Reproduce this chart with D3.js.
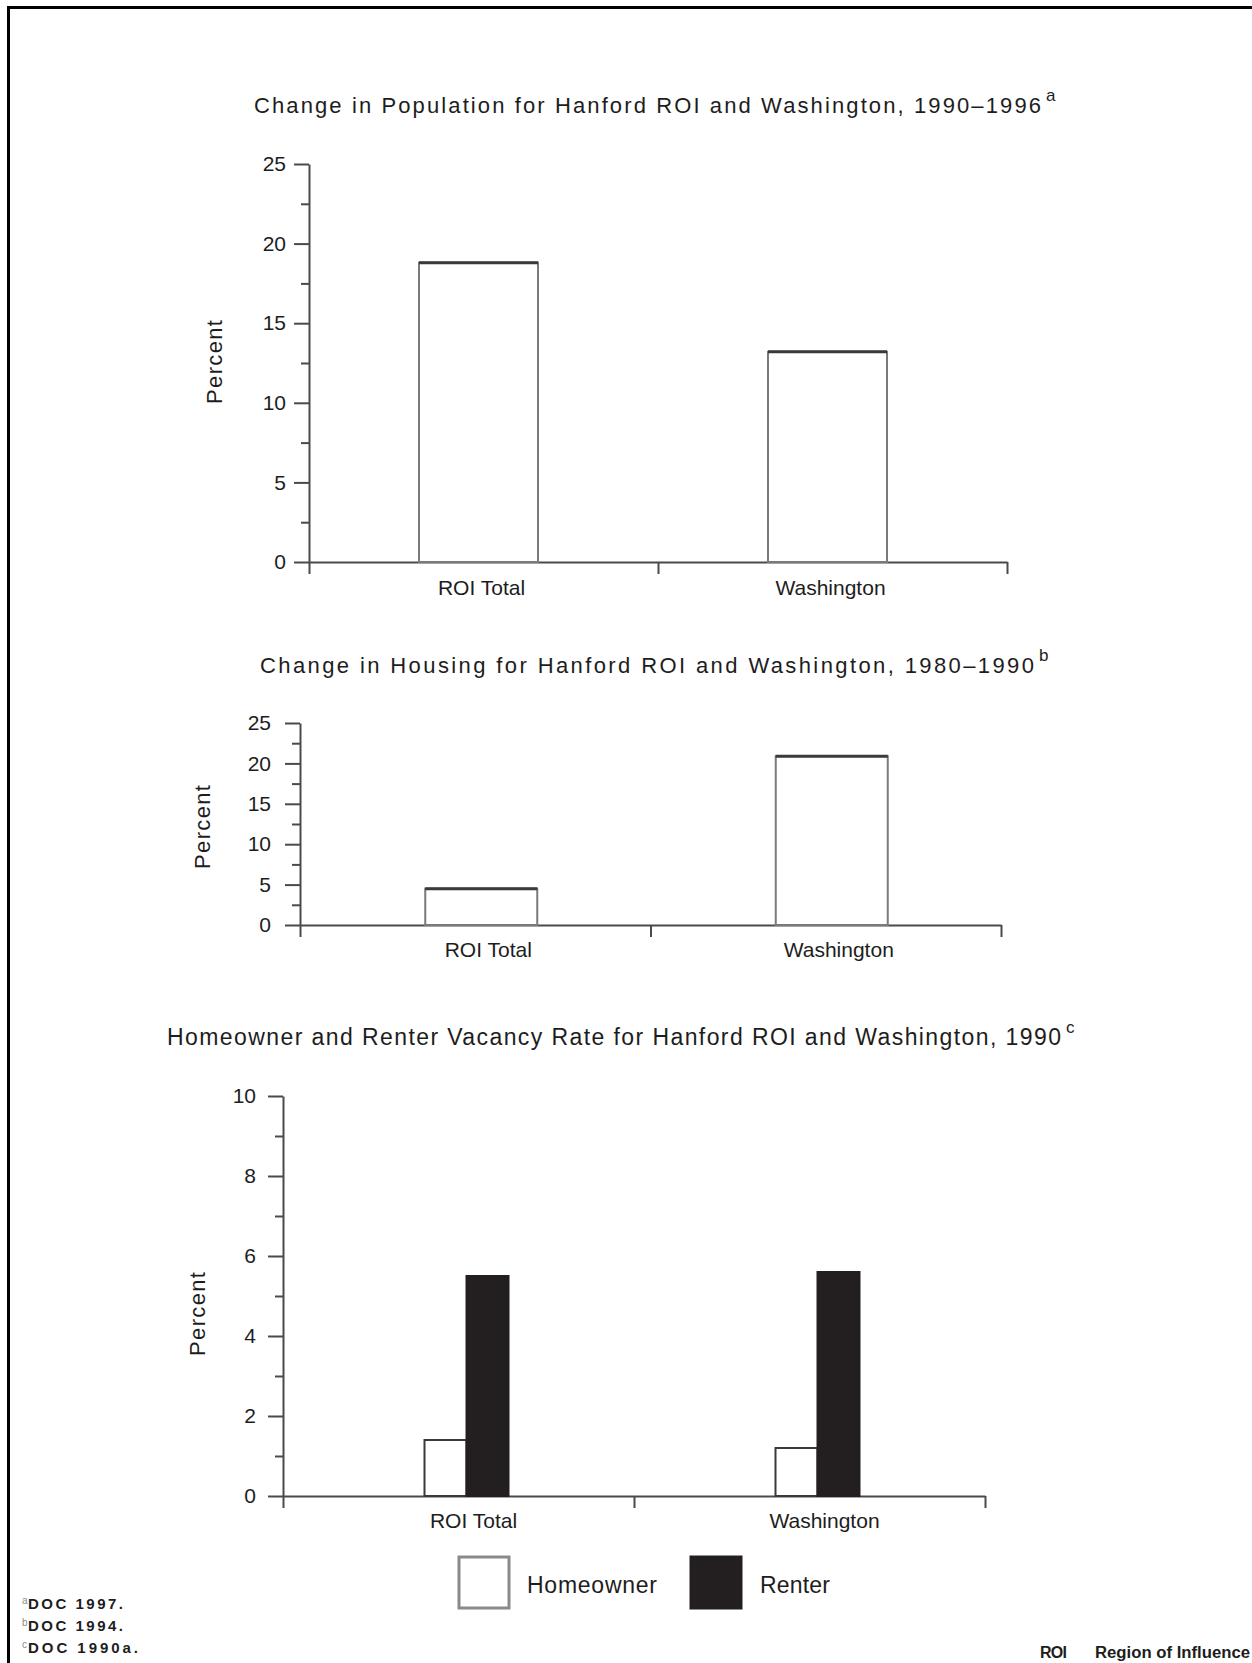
<!DOCTYPE html>
<html>
<head>
<meta charset="utf-8">
<script src="https://cdn.jsdelivr.net/npm/d3@7"></script>
<style>
  html, body { margin: 0; padding: 0; background: #fff; }
  svg { display: block; }
  text { font-family: "Liberation Sans", Arial, sans-serif; fill: #1d1d1d; }
</style>
</head>
<body>
<svg id="chart" width="1252" height="1663"></svg>
<script>
// ---------- data ----------
const categories = ["ROI Total", "Washington"];
const populationChange = [18.8, 13.2];          // % change 1990–1996
const housingChange = [4.5, 20.9];              // % change 1980–1990
const seriesNames = ["Homeowner", "Renter"];
const homeownerVacancy = [1.4, 1.2];            // % 1990
const renterVacancy = [5.5, 5.6];               // % 1990
const percentTicks = [0, 5, 10, 15, 20, 25];
const percentMinorTicks = [2.5, 7.5, 12.5, 17.5, 22.5];
const vacancyTicks = [0, 2, 4, 6, 8, 10];
const vacancyMinorTicks = [1, 3, 5, 7, 9];
const titles = [
  "Change in Population for Hanford ROI and Washington, 1990\u20131996",
  "Change in Housing for Hanford ROI and Washington, 1980\u20131990",
  "Homeowner and Renter Vacancy Rate for Hanford ROI and Washington, 1990"
];
const titleMarks = ["a", "b", "c"];
const footnoteMarks = ["a", "b", "c"];
const footnotes = ["DOC 1997.", "DOC 1994.", "DOC 1990a."];
const yLabel = "Percent";
const abbrev = ["ROI", "Region of Influence"];

// ---------- page ----------
const svg = d3.select("#chart");
svg.append("rect").attr("width", 1252).attr("height", 1663).attr("fill", "#fff");
// frame (top and left edges visible)
svg.append("path").attr("d", "M8.5,1663 V7.5 H1252")
  .attr("fill", "none").attr("stroke", "#000").attr("stroke-width", 3);

const AX = "#4a4a4a";

function title(cfg, text, mark) {
  svg.append("text").attr("x", cfg.tx).attr("y", cfg.ty)
    .attr("font-size", cfg.tfs).attr("textLength", cfg.tw).attr("lengthAdjust", "spacing")
    .text(text);
  svg.append("text").attr("x", cfg.tx + cfg.tw + 5).attr("y", cfg.ty - 12)
    .attr("font-size", 17).text(mark);
}

function frame(cfg, ticks, minor) {
  const y = d3.scaleLinear().domain(cfg.domain).range([cfg.y0, cfg.y1]);
  const xb = d3.scaleLinear().domain([0, categories.length]).range([cfg.x0, cfg.x1]);
  const band = d3.scaleBand().domain(categories).range([cfg.x0, cfg.x1]).padding(0);

  // minor y ticks
  const gm = svg.append("g").attr("transform", `translate(${cfg.x0},0)`)
    .call(d3.axisLeft(y).tickValues(minor).tickSize(8).tickFormat("").tickSizeOuter(0));
  gm.select(".domain").remove();
  gm.selectAll("line").attr("stroke", AX).attr("stroke-width", 2);

  // major y axis
  const gy = svg.append("g").attr("transform", `translate(${cfg.x0},0)`)
    .call(d3.axisLeft(y).tickValues(ticks).tickSize(15).tickSizeOuter(0).tickPadding(cfg.tickPad));
  gy.select(".domain").attr("stroke", AX).attr("stroke-width", 2);
  gy.selectAll("line").attr("stroke", AX).attr("stroke-width", 2);
  gy.selectAll("text").attr("font-size", 21).attr("fill", "#1d1d1d")
    .attr("font-family", "'Liberation Sans', Arial, sans-serif");

  // x axis with ticks at category boundaries
  const gx = svg.append("g").attr("transform", `translate(0,${cfg.y0})`)
    .call(d3.axisBottom(xb).tickValues(d3.range(categories.length + 1)).tickSize(12).tickFormat("").tickSizeOuter(0));
  gx.select(".domain").attr("stroke", AX).attr("stroke-width", 2);
  gx.selectAll("line").attr("stroke", AX).attr("stroke-width", 2);

  // category labels
  svg.append("g").selectAll("text").data(categories).join("text")
    .attr("x", d => band(d) + band.bandwidth() / 2 + cfg.labOff)
    .attr("y", cfg.labY).attr("text-anchor", "middle").attr("font-size", 21)
    .text(d => d);

  // y label
  svg.append("text").attr("transform", `translate(${cfg.plx},${cfg.ply}) rotate(-90)`)
    .attr("text-anchor", "middle").attr("font-size", 22)
    .attr("textLength", 84).attr("lengthAdjust", "spacing").text(yLabel);

  return { y, band };
}

function singleBars(cfg, values) {
  const { y, band } = frame(cfg, percentTicks, percentMinorTicks);
  const w = cfg.barW;
  const cx = d => band(d) + band.bandwidth() / 2 + cfg.barOff;
  const g = svg.append("g");
  g.selectAll("rect").data(categories).join("rect")
    .attr("x", d => cx(d) - w / 2)
    .attr("y", (d, i) => y(values[i]))
    .attr("width", w)
    .attr("height", (d, i) => y(0) - y(values[i]))
    .attr("fill", "#fff").attr("stroke", "#7a7a7a").attr("stroke-width", 2);
  g.selectAll("line.top").data(categories).join("line").attr("class", "top")
    .attr("x1", d => cx(d) - w / 2).attr("x2", d => cx(d) + w / 2)
    .attr("y1", (d, i) => y(values[i])).attr("y2", (d, i) => y(values[i]))
    .attr("stroke", "#3a3a3a").attr("stroke-width", 3);
}

// ---------- chart 1 ----------
const c1 = { tx: 254, ty: 113, tw: 787, tfs: 22,
  domain: [0, 25], x0: 309, x1: 1007, y0: 562, y1: 164, tickPad: 8,
  labOff: -2, labY: 595, plx: 222, ply: 362, barW: 119, barOff: -5 };
title(c1, titles[0], titleMarks[0]);
singleBars(c1, populationChange);

// ---------- chart 2 ----------
const c2 = { tx: 260, ty: 673, tw: 774, tfs: 22,
  domain: [0, 25], x0: 300, x1: 1001, y0: 925, y1: 723, tickPad: 14,
  labOff: 13, labY: 957, plx: 210, ply: 827, barW: 112, barOff: 6 };
title(c2, titles[1], titleMarks[1]);
singleBars(c2, housingChange);

// ---------- chart 3 ----------
const c3 = { tx: 167, ty: 1045, tw: 894, tfs: 23,
  domain: [0, 10], x0: 283, x1: 985, y0: 1496, y1: 1096, tickPad: 12,
  labOff: 15, labY: 1528, plx: 205, ply: 1314 };
title(c3, titles[2], titleMarks[2]);
{
  const { y, band } = frame(c3, vacancyTicks, vacancyMinorTicks);
  const sub = d3.scaleBand().domain(seriesNames).range([-42, 42]).padding(0);
  const colors = d3.scaleOrdinal().domain(seriesNames).range(["#ffffff", "#231f20"]);
  const series = [homeownerVacancy, renterVacancy];
  const rows = [];
  categories.forEach((c, i) => seriesNames.forEach((s, j) => rows.push({ c, s, v: series[j][i] })));
  const g = svg.append("g");
  g.selectAll("rect").data(rows).join("rect")
    .attr("x", d => band(d.c) + band.bandwidth() / 2 + 8 + sub(d.s))
    .attr("y", d => y(d.v))
    .attr("width", sub.bandwidth())
    .attr("height", d => y(0) - y(d.v))
    .attr("fill", d => colors(d.s))
    .attr("stroke", d => d.s === "Renter" ? "#231f20" : "#3a3a3a")
    .attr("stroke-width", 2);

  // legend
  const lg = svg.append("g");
  const lx = [459, 691], tx = [527, 760], tw = [130, 70];
  seriesNames.forEach((s, j) => {
    lg.append("rect").attr("x", lx[j]).attr("y", 1557).attr("width", 50).attr("height", 51)
      .attr("fill", colors(s)).attr("stroke", j === 0 ? "#8a8a8a" : "#231f20").attr("stroke-width", 3);
    lg.append("text").attr("x", tx[j]).attr("y", 1593).attr("font-size", 23)
      .attr("textLength", tw[j]).attr("lengthAdjust", "spacing").text(s);
  });
}

// ---------- footnotes ----------
footnotes.forEach((f, i) => {
  const by = 1609 + i * 22;
  svg.append("text").attr("x", 22).attr("y", by - 5).attr("font-size", 10)
    .style("fill", "#8a8a8a").text(footnoteMarks[i]);
  svg.append("text").attr("x", 28).attr("y", by).attr("font-size", 15).attr("font-weight", "bold")
    .attr("textLength", i === 2 ? 110 : 95).attr("lengthAdjust", "spacing").text(f);
});
svg.append("text").attr("x", 1040).attr("y", 1658).attr("font-size", 16).attr("font-weight", "bold")
  .attr("textLength", 27).attr("lengthAdjust", "spacing").text(abbrev[0]);
svg.append("text").attr("x", 1095).attr("y", 1658).attr("font-size", 16).attr("font-weight", "bold")
  .attr("textLength", 155).attr("lengthAdjust", "spacingAndGlyphs").text(abbrev[1]);
</script>
</body>
</html>
